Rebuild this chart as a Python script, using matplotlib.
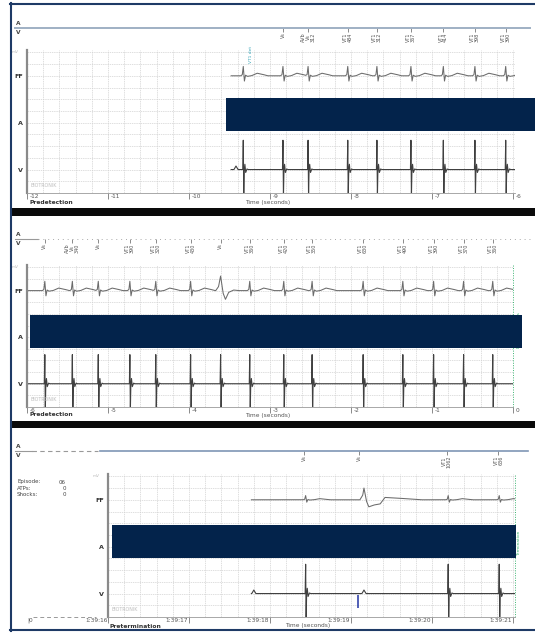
import matplotlib
matplotlib.use("Agg")

import numpy as np
import matplotlib.pyplot as plt
from matplotlib.patches import Rectangle
from matplotlib.lines import Line2D
from matplotlib.transforms import blended_transform_factory, ScaledTranslation

# ---- values (time in seconds) ----
# panel 1: predetection
p1_beats = [-9.33, -8.84, -8.53, -8.04, -7.68, -7.26, -6.86, -6.47, -6.09]
p1_start = -9.48
p1_v_bumps = [-9.42]
p1_marks = [-8.84, -8.53, -8.04, -7.68, -7.26, -6.86, -6.47, -6.09]
p1_mark_labels = ["Vs", "AVb\nVs\n312", "VT1\n484", "VT1\n312", "VT1\n367",
                  "VT1\n414", "VT1\n398", "VT1\n390"]
p1_ticks = [-12, -11, -10, -9, -8, -7, -6]
p1_ticklabels = ["-12", "-11", "-10", "-9", "-8", "-7", "-6"]

# panel 2: predetection, up to detection
p2_beats = [-5.78, -5.44, -5.12, -4.73, -4.41, -3.98, -3.61, -3.25, -2.83,
            -2.48, -1.85, -1.36, -0.98, -0.61, -0.25]
p2_pvc = [-3.61]
p2_start = -6.0
p2_marks = p2_beats
p2_mark_labels = ["Vs", "AVb\nVs\n340", "Vs", "VT1\n390", "VT1\n320",
                  "VT1\n430", "Vs", "VT1\n360", "VT1\n420", "VT1\n350",
                  "VT1\n630", "VT1\n490", "VT1\n390", "VT1\n370", "VT1\n360"]
p2_ticks = [-6, -5, -4, -3, -2, -1, 0]
p2_ticklabels = ["-6", "-5", "-4", "-3", "-2", "-1", "0"]

# panel 3: pretermination (clock time 1:39:xx)
p3_beats = [18.44, 20.20, 20.83]
p3_pvc = [19.16]
p3_start = 17.77
p3_v_bumps = [17.80, 19.16]
p3_blue_mark = [19.09]
p3_marks = [18.42, 19.10, 20.18, 20.82]
p3_mark_labels = ["Vs", "Vs", "VT1\n1062", "VT1\n636"]
p3_ticks = [16, 17, 18, 19, 20, 21]
p3_ticklabels = ["1:39:16", "1:39:17", "1:39:18", "1:39:19", "1:39:20", "1:39:21"]

info_keys = ["Episode:", "ATPs:", "Shocks:"]
info_vals = ["06", "0", "0"]

row_pos = [2, 6, 10]
row_labels = ["V", "A", "FF"]

# ---- waveform shapes (offset from beat, amplitude in grid units) ----
FF_DT = [-0.03, -0.012, 0.0, 0.014, 0.028, 0.05, 0.1, 0.17, 0.24, 0.3]
FF_AMP = [0, 0.1, 0.8, -0.45, 0.05, -0.05, 0.0, 0.22, 0.12, 0]
V_DT = [-0.006, 0.0, 0.006, 0.012, 0.02, 0.03, 0.045, 0.06]
V_AMP = [0, 2.5, -2.3, -0.1, 0.45, -0.25, 0.05, 0]
BUMP_DT = [-0.025, 0.0, 0.025]
BUMP_AMP = [0, 0.3, 0]
PVC2_DT = [-0.06, -0.025, 0.0, 0.03, 0.06, 0.1, 0.16, 0.22]
PVC2_AMP = [0, 0.35, 1.25, -0.2, -0.75, -0.15, 0.05, 0]
PVC3_DT = [-0.05, -0.015, 0.0, 0.03, 0.06, 0.12, 0.2, 0.26, 0.4, 0.7]
PVC3_AMP = [0, 0.4, 1.0, -0.1, -0.6, -0.45, -0.35, 0.2, 0.15, 0]

W, H = 535, 633
PX_PER_S = 81.0
NAVY = "#03234b"
FRAME = "#1e3a66"


def fx(x):
    return x / W


def fy(y):
    return 1 - y / H


def beat_train(t, beats, dts, amps, scale=1.0):
    out = np.zeros_like(t)
    for b in beats:
        out += scale * np.interp(t - b, dts, amps, left=0.0, right=0.0)
    return out


def ecg_axes(fig, left, top, right, bottom, t0, ticks, ticklabels, right_align=False):
    ax = fig.add_axes([fx(left), fy(bottom), (right - left) / W, (bottom - top) / H])
    t1 = t0 + (right - left) / PX_PER_S
    ax.set_xlim(t0, t1)
    ax.set_ylim(0, 12.2)
    ax.set_xticks(ticks, labels=ticklabels)
    ax.set_xticks(np.arange(t0, t1, 0.2), minor=True)
    ax.set_yticks(row_pos, labels=row_labels)
    ax.set_yticks(np.arange(1, 13), minor=True)
    ax.tick_params(which="minor", length=0)
    ax.tick_params(axis="y", which="major", length=0, pad=3, labelsize=4.6,
                   labelcolor="#333")
    ax.tick_params(axis="x", which="major", length=4, width=0.6, color="#777",
                   pad=0.6, labelsize=4.2, labelcolor="#555")
    for lbl in ax.get_yticklabels():
        lbl.set_fontweight("bold")
    shift = ScaledTranslation(-0.5 / 72 if right_align else 1.6 / 72, 4.0 / 72,
                              fig.dpi_scale_trans)
    for lbl in ax.get_xticklabels():
        lbl.set_horizontalalignment("right" if right_align else "left")
        lbl.set_transform(lbl.get_transform() + shift)
    ax.grid(which="both", color="#d2d2d2", lw=0.5, ls=(0, (2, 1.2)))
    ax.set_axisbelow(True)
    for s in ("top", "right"):
        ax.spines[s].set_visible(False)
    ax.spines["left"].set_color("#8a8a8a")
    ax.spines["left"].set_linewidth(1.6)
    ax.spines["bottom"].set_color("#9a9a9a")
    ax.spines["bottom"].set_linewidth(0.6)
    ax.text(0.008, 0.035, "BIOTRONIK", transform=ax.transAxes, fontsize=3.4,
            color="#bdbdbd", va="bottom", ha="left")
    fig.text(fx(left - 12), fy(top + 2), "mV", fontsize=3, color="#bbbbbb",
             ha="center", va="center")
    return ax, t1


def draw_traces(ax, t, ff, v):
    ax.plot(t, 10 + ff, color="#6b6b6b", lw=0.75)
    ax.plot(t, 2 + v, color="#404040", lw=0.8)


def add_markers(fig, ax, times, labels, line_y):
    blend = blended_transform_factory(ax.transData, fig.transFigure)
    ax.vlines(times, fy(line_y + 3.5), fy(line_y), transform=blend,
              colors="#777777", lw=0.6, clip_on=False)
    for tm, lab in zip(times, labels):
        ax.text(tm, fy(line_y + 4.5), lab, transform=blend, rotation=90,
                ha="center", va="top", fontsize=3.5, color="#555555",
                clip_on=False, linespacing=0.9)


def hline(fig, x0, x1, y, **kw):
    fig.add_artist(Line2D([fx(x0), fx(x1)], [fy(y), fy(y)], transform=fig.transFigure, **kw))


def av_label(fig, y):
    fig.text(fx(18), fy(y - 4.5), "A", fontsize=4.2, weight="bold", ha="center",
             va="center", color="#444")
    fig.text(fx(18), fy(y + 4.5), "V", fontsize=4.2, weight="bold", ha="center",
             va="center", color="#444")


fig = plt.figure(figsize=(W / 100, H / 100), dpi=100)
fig.patch.set_facecolor("white")

# ---------- panel 1 ----------
ax1, e1 = ecg_axes(fig, 27, 50, 515, 193, -12, p1_ticks, p1_ticklabels)
t = np.arange(p1_start, e1, 0.002)
draw_traces(ax1, t, beat_train(t, p1_beats, FF_DT, FF_AMP),
            beat_train(t, p1_beats, V_DT, V_AMP) + beat_train(t, p1_v_bumps, BUMP_DT, BUMP_AMP))
av_label(fig, 28)
hline(fig, 15, 530, 28, color="#9fb0c4", lw=1.4)
add_markers(fig, ax1, p1_marks, p1_mark_labels, 28)
ax1.text(p1_beats[0] + 0.1, fy(54), "VT1 det", rotation=90, fontsize=3.2,
         color="#3aa6b9", ha="center", va="center",
         transform=blended_transform_factory(ax1.transData, fig.transFigure), clip_on=False)
fig.text(fx(30), fy(203), "Predetection", fontsize=4.3, weight="bold", color="#333", va="center")
fig.text(fx(245), fy(203), "Time (seconds)", fontsize=4.2, color="#555", va="center")

# ---------- panel 2 ----------
ax2, e2 = ecg_axes(fig, 27, 265, 513, 407, -6, p2_ticks, p2_ticklabels)
t = np.arange(p2_start, e2, 0.002)
normal2 = [b for b in p2_beats if not np.isclose(p2_pvc, b).any()]
draw_traces(ax2, t,
            beat_train(t, normal2, FF_DT, FF_AMP) + beat_train(t, p2_pvc, PVC2_DT, PVC2_AMP),
            beat_train(t, p2_beats, V_DT, V_AMP))
av_label(fig, 239)
hline(fig, 15, 38, 239, color="#999999", lw=0.8)
hline(fig, 38, 530, 239, color="#aaaaaa", lw=0.7, ls=(0, (1, 4)))
add_markers(fig, ax2, p2_marks, p2_mark_labels, 239)
ax2.axvline(e2, color="#3cb371", lw=0.7, ls=(0, (1, 1.5)), clip_on=False)
fig.text(fx(519), fy(330), "Detection A Vals", rotation=90, fontsize=3.2,
         color="#3cb371", ha="center", va="center")
fig.text(fx(30), fy(415), "Predetection", fontsize=4.3, weight="bold", color="#333", va="center")
fig.text(fx(245), fy(415), "Time (seconds)", fontsize=4.2, color="#555", va="center")

# ---------- panel 3 ----------
ax3, e3 = ecg_axes(fig, 108, 474, 515, 617, 16, p3_ticks, p3_ticklabels, right_align=True)
t = np.arange(p3_start, e3, 0.002)
draw_traces(ax3, t,
            beat_train(t, p3_beats, FF_DT, FF_AMP, scale=0.45) + beat_train(t, p3_pvc, PVC3_DT, PVC3_AMP),
            beat_train(t, p3_beats, V_DT, V_AMP) + beat_train(t, p3_v_bumps, BUMP_DT, BUMP_AMP))
ax3.vlines(p3_blue_mark, 0.75, 1.85, colors="#3344aa", lw=1.2)
av_label(fig, 451)
hline(fig, 15, 32, 451, color="#999999", lw=0.8)
hline(fig, 32, 98, 451, color="#999999", lw=0.8, ls=(0, (4, 3)))
hline(fig, 100, 528, 451, color="#7f96b5", lw=1.2)
add_markers(fig, ax3, p3_marks, p3_mark_labels, 451)
ax3.axvline(e3, color="#3cb371", lw=0.7, ls=(0, (1, 1.5)), clip_on=False)
fig.text(fx(519), fy(543), "Termination", rotation=90, fontsize=3.2,
         color="#3cb371", ha="center", va="center")
hline(fig, 33, 96, 617, color="#999999", lw=0.7, ls=(0, (4, 3)))
fig.text(fx(27), fy(620), "|0", fontsize=4.2, color="#555", va="center")
for i, (k, val) in enumerate(zip(info_keys, info_vals)):
    fig.text(fx(17), fy(482 + 6 * i), k, fontsize=4, color="#444", va="center")
    fig.text(fx(66), fy(482 + 6 * i), val, fontsize=4, color="#444", va="center", ha="right")
fig.text(fx(110), fy(626), "Pretermination", fontsize=4.3, weight="bold", color="#333", va="center")
fig.text(fx(285), fy(626), "Time (seconds)", fontsize=4.2, color="#555", va="center")

# ---------- redaction bars, separators, frame ----------
for x0, y0, x1, y1 in [(226, 98, 535, 131), (30, 315, 522, 348), (112, 525, 516, 558)]:
    fig.add_artist(Rectangle((fx(x0), fy(y1)), (x1 - x0) / W, (y1 - y0) / H,
                             transform=fig.transFigure, facecolor=NAVY, edgecolor="none", zorder=5))
for y0, y1 in [(208, 216), (421, 428)]:
    fig.add_artist(Rectangle((fx(10), fy(y1)), (W - 10) / W, (y1 - y0) / H,
                             transform=fig.transFigure, facecolor="#0a0a0a", edgecolor="none", zorder=5))
fig.add_artist(Line2D([fx(11), fx(11)], [fy(3), fy(631)], transform=fig.transFigure,
                      color=FRAME, lw=1.5, zorder=6))
hline(fig, 10, 535, 4, color=FRAME, lw=1.5, zorder=6)
hline(fig, 10, 535, 630, color=FRAME, lw=1.5, zorder=6)

fig.savefig("out.png", dpi=100)
